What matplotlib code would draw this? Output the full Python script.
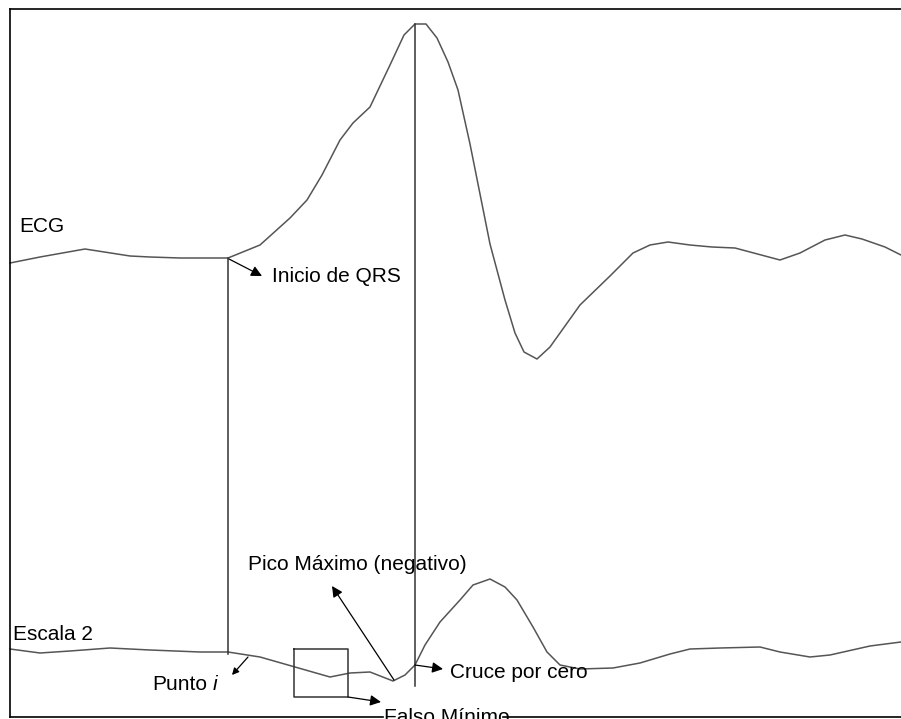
import matplotlib.pyplot as plt

plt.rcParams['font.family'] = ['Liberation Sans', 'DejaVu Sans']

# ECG trace (x = sample, y = amplitude, screen units, down is positive)
ecg_x = [10, 40, 85, 130, 150, 180, 228, 260, 290, 307, 322, 340, 353, 370, 390,
         404, 415, 426, 437, 448, 458, 470, 480, 490, 505, 515, 524, 537, 550,
         580, 610, 633, 650, 668, 690, 712, 735, 780, 800, 825, 845, 862, 885, 901]
ecg_y = [263, 257, 249, 256, 257, 258, 258, 245, 218, 200, 175, 140, 123, 107, 65,
         35, 24, 24, 38, 62, 90, 144, 194, 244, 300, 333, 352, 359, 347,
         305, 276, 253, 245, 242, 245, 247, 248, 260, 253, 240, 235, 239, 247, 255]

# Escala 2 (wavelet scale 2)
esc_x = [10, 40, 70, 110, 150, 200, 228, 260, 295, 330, 350, 370, 393, 405, 415,
         425, 440, 460, 473, 490, 505, 517, 533, 547, 560, 580, 613, 640, 670,
         690, 720, 760, 780, 810, 830, 870, 901]
esc_y = [649, 653, 651, 648, 650, 652, 652, 657, 667, 677, 673, 672, 681, 675, 665,
         645, 622, 600, 585, 579, 587, 600, 627, 652, 665, 669, 668, 663, 654,
         649, 648, 647, 652, 657, 655, 646, 642]

qrs_x = 228
peak_x = 415

fig = plt.figure(figsize=(9.01, 7.19), dpi=100)
ax = fig.add_axes([0, 0, 1, 1])
ax.set_xlim(0, 901)
ax.set_ylim(719, 0)
ax.axis('off')

ax.plot(ecg_x, ecg_y, color='#555555', lw=1.1)
ax.plot(esc_x, esc_y, color='#555555', lw=1.1)

# frame (no right side, bottom broken by label)
k = dict(color='black', lw=1.2)
ax.plot([10, 901], [9, 9], **k)
ax.plot([10, 10], [9, 717], **k)
ax.plot([10, 383], [717, 717], **k)
ax.plot([503, 901], [717, 717], **k)

# marker lines
ax.plot([qrs_x, qrs_x], [258, 654], color='#333333', lw=1.1)
ax.plot([peak_x, peak_x], [24, 686], color='#333333', lw=1.1)

# box around false minimum
ax.plot([294, 348, 348, 294, 294], [649, 649, 697, 697, 649], color='#333333', lw=1.1)

fs = 15
ax.text(19, 227, 'ECG', fontsize=fs, va='center')
ax.text(13, 635, 'Escala 2', fontsize=fs, va='center')
ax.text(272, 276, 'Inicio de QRS', fontsize=fs, va='center')
ax.text(248, 564, 'Pico Máximo (negativo)', fontsize=fs, va='center')
ax.text(450, 672, 'Cruce por cero', fontsize=fs, va='center')
ax.text(152, 684, 'Punto', fontsize=fs, va='center')
ax.text(213, 684, 'i', fontsize=fs, va='center', style='italic')
ax.text(384, 723, 'Falso Mínimo', fontsize=fs, va='baseline')

ap = dict(arrowstyle='-|>', color='black', lw=0.9, mutation_scale=16, shrinkA=0, shrinkB=0)
ax.annotate('', xy=(262, 276), xytext=(229, 259), arrowprops=ap)
ax.annotate('', xy=(332, 586), xytext=(394, 680), arrowprops=ap)
ax.annotate('', xy=(443, 669), xytext=(415, 665), arrowprops=ap)
ax.annotate('', xy=(381, 702), xytext=(348, 697), arrowprops=ap)
ap2 = dict(ap, mutation_scale=10)
ax.annotate('', xy=(232, 675), xytext=(248, 657), arrowprops=ap2)

fig.savefig('out.png', dpi=100)
